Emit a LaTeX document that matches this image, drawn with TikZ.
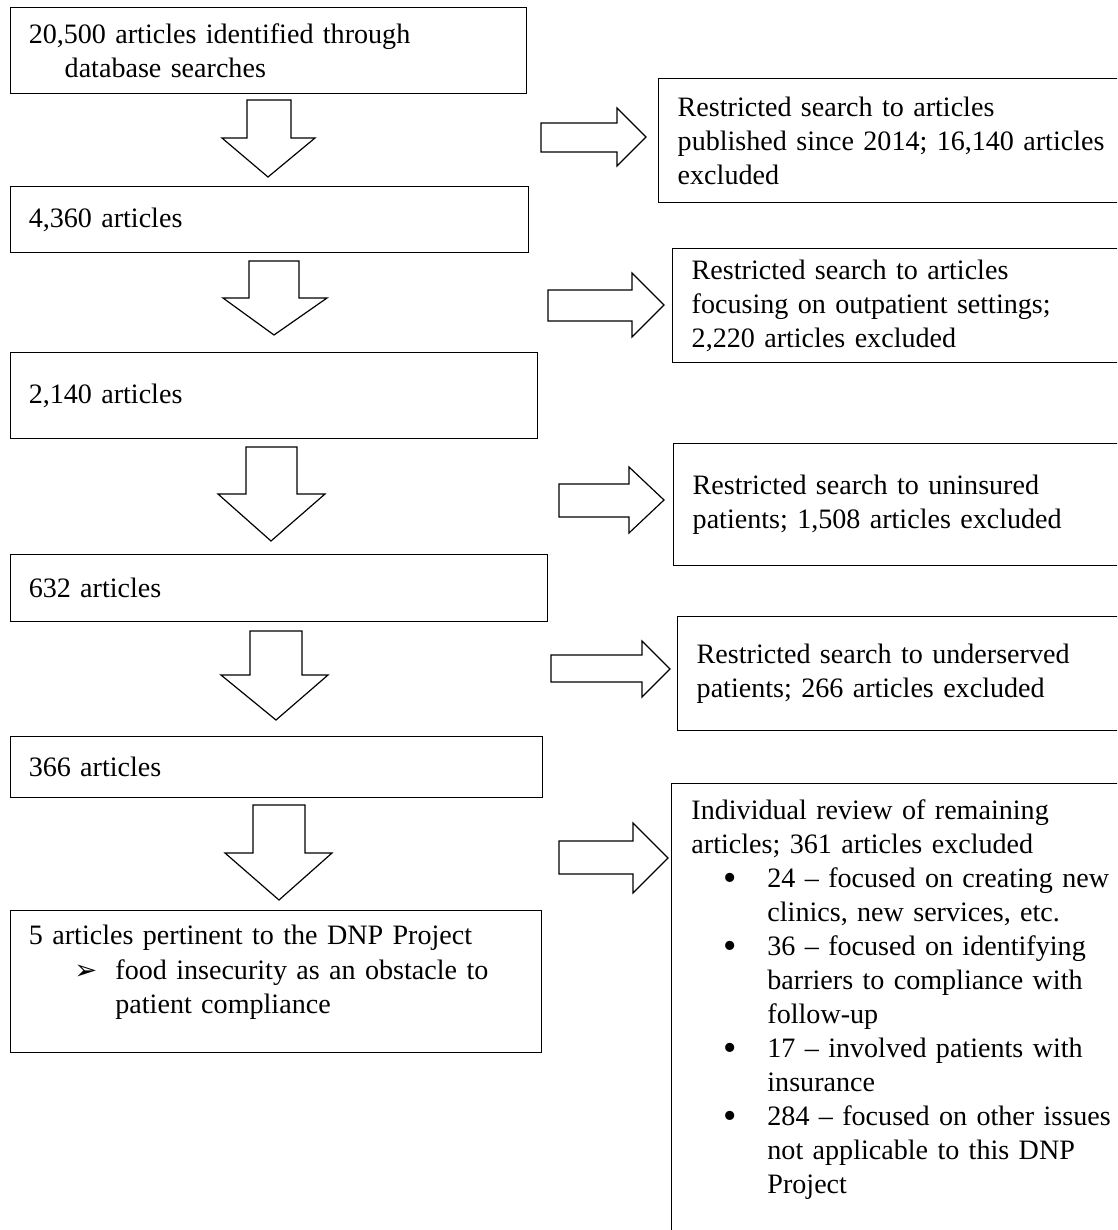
\documentclass[tikz,border=0pt]{standalone}
\usepackage{fontspec}
\setmainfont{Liberation Serif}
\newfontfamily\dingfont{DejaVu Sans}

\tikzstyle{stage} = [rectangle, draw=black, line width=0.55pt, anchor=north west, inner xsep=7.6pt, inner ysep=0pt, align=left, font=\fontsize{11.8pt}{14.3pt}\selectfont]
\tikzstyle{excl} = [stage, inner xsep=8pt]
\tikzstyle{boxframe} = [rectangle, draw=black, line width=0.55pt, anchor=north west, inner sep=0pt]
\tikzstyle{boxtext} = [anchor=north west, inner sep=0pt, align=left, font=\fontsize{11.8pt}{14.3pt}\selectfont]
\tikzstyle{blk} = [draw=black, line width=0.5pt, fill=white, line join=miter]

\newcommand{\exclitem}[1]{{\let\\\newline\hangindent=31.9pt\hangafter=0\noindent\llap{\makebox[18.4pt][l]{\raisebox{-1.2pt}{\fontsize{16pt}{16pt}\selectfont\textbullet}}}#1\par}}
\newcommand{\projitem}[1]{{\let\\\newline\hangindent=36.3pt\hangafter=0\noindent\llap{\makebox[17.2pt][l]{\dingfont\fontsize{11.5pt}{11pt}\selectfont ➢}}#1\par}}

\begin{document}
\begin{tikzpicture}[x=0.42pt, y=-0.42pt]

\useasboundingbox (0,0) rectangle (1117,1230);
\clip (0,0) rectangle (1117,1230);

%% LEFT COLUMN

\node (b1) [stage, text width=201.5pt, minimum height=36.1pt] at (10,7) {20,500 articles identified through\\\hspace*{15.1pt}database searches};
\node (b2) [stage, text width=202.4pt, minimum height=27.7pt] at (10,186) {4,360 articles};
\node (b3) [stage, text width=206.1pt, minimum height=36.1pt] at (10,352) {2,140 articles};
\node (b4) [stage, text width=210.3pt, minimum height=28.1pt] at (10,554) {632 articles};
\node (b5) [stage, text width=208.2pt, minimum height=25.6pt] at (10,736) {366 articles};
\node (b6) [boxframe, minimum width=223pt, minimum height=59.6pt] at (10,910) {};
\node (b6t) [boxtext, text width=200pt] at (28.5,925) {5 articles pertinent to the DNP Project\par
\projitem{food insecurity as an obstacle to\\patient compliance}};

%% RIGHT COLUMN

\node (r1) [excl, text width=186.4pt, minimum height=52.1pt] at (658,78) {Restricted search to articles\\published since 2014; 16,140 articles\\excluded};
\node (r2) [excl, text width=180.6pt, minimum height=47.9pt] at (672,248) {Restricted search to articles\\focusing on outpatient settings;\\2,220 articles excluded};
\node (r3) [excl, text width=180.1pt, minimum height=51.2pt] at (673,443) {Restricted search to uninsured\\patients; 1,508 articles excluded};
\node (r4) [excl, text width=178.5pt, minimum height=47.9pt] at (677,616) {Restricted search to underserved\\patients; 266 articles excluded};
\node (r5) [boxframe, minimum width=197pt, minimum height=210pt] at (671,783) {};
\node (r5t) [boxtext, text width=190pt] at (691,799) {Individual review of remaining\\articles; 361 articles excluded\par
\exclitem{24 – focused on creating new\\clinics, new services, etc.}
\exclitem{36 – focused on identifying\\barriers to compliance with\\follow-up}
\exclitem{17 – involved patients with\\insurance}
\exclitem{284 – focused on other issues\\not applicable to this DNP\\Project}};

%% DOWN ARROWS

\draw [blk] (247,100) -- (247,138) -- (222,138) -- (268,177) -- (315,138) -- (291,138) -- (291,100) -- cycle;
\draw [blk] (249,261) -- (249,298) -- (223,298) -- (274,335) -- (327,298) -- (299,298) -- (299,261) -- cycle;
\draw [blk] (246,447) -- (246,494) -- (218,494) -- (271,541) -- (325,494) -- (297,494) -- (297,447) -- cycle;
\draw [blk] (250,631) -- (250,675) -- (221,675) -- (276,720) -- (328,675) -- (302,675) -- (302,631) -- cycle;
\draw [blk] (253,805) -- (253,853) -- (225,853) -- (279,900) -- (332,853) -- (305,853) -- (305,805) -- cycle;

%% SIDE ARROWS

\draw [blk] (541,123) -- (617,123) -- (617,108) -- (646,137) -- (617,166) -- (617,152) -- (541,152) -- cycle;
\draw [blk] (548,290) -- (632,290) -- (632,273) -- (664,305) -- (632,337) -- (632,321) -- (548,321) -- cycle;
\draw [blk] (559,484) -- (629,484) -- (629,467) -- (664,500) -- (629,533) -- (629,517) -- (559,517) -- cycle;
\draw [blk] (551,655) -- (642,655) -- (642,641) -- (670,669) -- (642,697) -- (642,682) -- (551,682) -- cycle;
\draw [blk] (559,841) -- (633,841) -- (633,823) -- (668,858) -- (633,893) -- (633,874) -- (559,874) -- cycle;

\end{tikzpicture}
\end{document}
